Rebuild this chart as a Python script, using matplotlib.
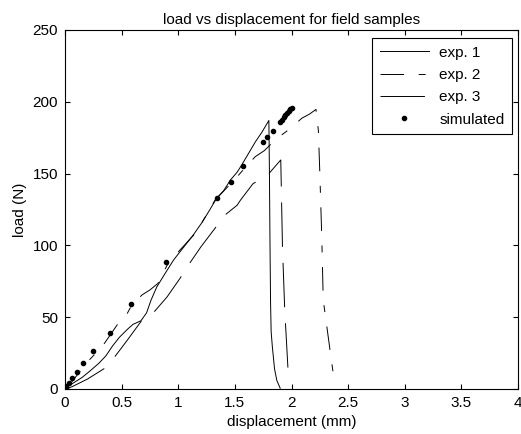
import matplotlib
matplotlib.use('Agg')
import matplotlib.pyplot as plt

plt.rcParams['font.family'] = ['Liberation Sans', 'DejaVu Sans']
plt.rcParams['font.size'] = 11
plt.rcParams['lines.scale_dashes'] = False

# exp. 1 (solid)
exp1_x = [0, 0.02, 0.08, 0.15, 0.22, 0.30, 0.36, 0.42, 0.48, 0.55, 0.60, 0.67, 0.72, 0.76,
          0.81, 0.88, 0.96, 1.04, 1.13, 1.21, 1.28, 1.34, 1.40, 1.46, 1.52, 1.56, 1.62, 1.68,
          1.74, 1.80, 1.805, 1.81, 1.815, 1.82, 1.83, 1.85, 1.87, 1.90]
exp1_y = [0, 1.6, 4.5, 8, 12.5, 18, 23, 30, 36, 41.5, 45, 47.5, 53, 62,
          71, 80, 90, 98, 107, 116, 125, 133, 138, 145.5, 151, 156, 164, 172,
          179, 187, 150, 100, 60, 40, 30, 14, 6, 0.5]

# exp. 2 (dash-dot)
exp2_x = [0, 0.05, 0.12, 0.22, 0.27, 0.35, 0.46, 0.55, 0.59, 0.68, 0.75, 0.82, 0.90, 1.015,
          1.15, 1.24, 1.325, 1.41, 1.50, 1.60, 1.68, 1.76, 1.825, 1.88, 1.94, 1.99, 2.09,
          2.16, 2.216, 2.237, 2.25, 2.267, 2.28, 2.34, 2.38]
exp2_y = [0, 4, 11, 20.7, 24.8, 32, 44.6, 52.7, 58.5, 65.5, 69, 73.5, 86, 96.8,
          108.4, 120, 131.6, 138.6, 146, 155, 161.8, 166, 171, 175, 178.5, 181.5, 188.5,
          191.5, 194.7, 180, 150, 106, 62, 27, 4]

# exp. 3 (long dashes)
exp3_x = [0, 0.06, 0.20, 0.35, 0.44, 0.55, 0.68, 0.79, 0.90, 1.015, 1.10, 1.20, 1.325,
          1.41, 1.52, 1.55, 1.66, 1.73, 1.80, 1.905, 1.92, 1.94, 1.975]
exp3_y = [0, 1.5, 7, 14.4, 22.5, 34, 48, 54, 64, 77, 87.5, 99, 112,
          121, 128, 131.6, 143, 146, 150, 159.5, 99, 55, 5]

# simulated
sim_x = [0, 0.005, 0.01, 0.032, 0.062, 0.106, 0.159, 0.247, 0.395, 0.585, 0.892, 1.345,
         1.463, 1.569, 1.746, 1.781, 1.834, 1.898, 1.915, 1.93, 1.945, 1.96, 1.975, 1.99, 2.0]
sim_y = [0, 1, 2, 4.4, 7.9, 12, 17.9, 26.5, 38.8, 59.2, 88.4, 132.8,
         143.9, 155.3, 171.8, 175.3, 179.7, 185.7, 187.5, 189.3, 190.8, 192.3, 193.8, 195.2, 196]

xticks = [0, 0.5, 1, 1.5, 2, 2.5, 3, 3.5, 4]
xticklabels = ['0', '0.5', '1', '1.5', '2', '2.5', '3', '3.5', '4']
yticks = [0, 50, 100, 150, 200, 250]

fig = plt.figure(figsize=(5.21, 4.34), dpi=100)
ax = fig.add_axes([0.1248, 0.1037, 0.8695, 0.8272])

ax.plot(exp1_x, exp1_y, color='black', lw=0.7, linestyle='-', label='exp. 1')
ax.plot(exp2_x, exp2_y, color='black', lw=0.7, linestyle=(0, (17, 10.5, 5, 10.5)), label='exp. 2')
ax.plot(exp3_x, exp3_y, color='black', lw=0.7, linestyle=(0, (32, 11.5)), label='exp. 3')
ax.plot(sim_x, sim_y, color='black', linestyle='none', marker='.', markersize=6, label='simulated')

ax.set_xlim(0, 4)
ax.set_ylim(0, 250)
ax.set_xticks(xticks)
ax.set_xticklabels(xticklabels)
ax.set_yticks(yticks)
ax.tick_params(direction='in', top=True, right=True, length=3.5, width=0.8, pad=5)
for s in ax.spines.values():
    s.set_linewidth(0.8)

ax.set_title('load vs displacement for field samples', fontsize=11, pad=4)
ax.set_xlabel('displacement (mm)', labelpad=3.5)
ax.set_ylabel('load (N)', labelpad=4)

leg = ax.legend(loc='upper right', bbox_to_anchor=(0.987, 0.978), borderaxespad=0,
                fancybox=False, edgecolor='black', framealpha=1, handlelength=3.2,
                labelspacing=0.55, handletextpad=0.7, borderpad=0.5)
leg.get_frame().set_linewidth(0.8)

plt.savefig('out.png', dpi=100)
